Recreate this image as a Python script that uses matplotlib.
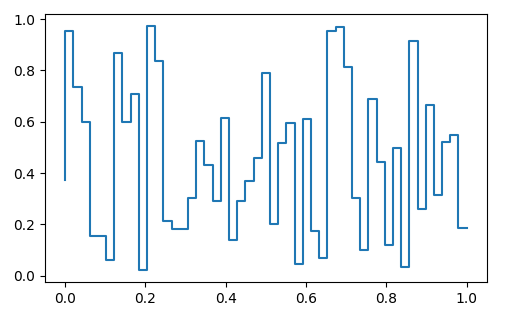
import numpy as np
import matplotlib
matplotlib.use('Agg')
import matplotlib.pyplot as plt

# step heights, one per x position
y_vals = [0.373, 0.952, 0.734, 0.600, 0.156, 0.156, 0.061, 0.866, 0.600, 0.710,
          0.022, 0.971, 0.835, 0.214, 0.184, 0.184, 0.305, 0.526, 0.432, 0.292,
          0.613, 0.140, 0.292, 0.368, 0.458, 0.788, 0.200, 0.516, 0.594, 0.045,
          0.609, 0.173, 0.068, 0.952, 0.969, 0.812, 0.305, 0.099, 0.687, 0.442,
          0.122, 0.497, 0.035, 0.913, 0.262, 0.664, 0.313, 0.522, 0.547, 0.188]
x_vals = np.linspace(0, 1, len(y_vals))

fig, ax = plt.subplots(figsize=(5.06, 3.11), dpi=100)
fig.subplots_adjust(left=0.089, right=0.962, top=0.954, bottom=0.092)

ax.step(x_vals, y_vals, where='pre', color='#1f77b4')

plt.savefig('out.png', dpi=100)
